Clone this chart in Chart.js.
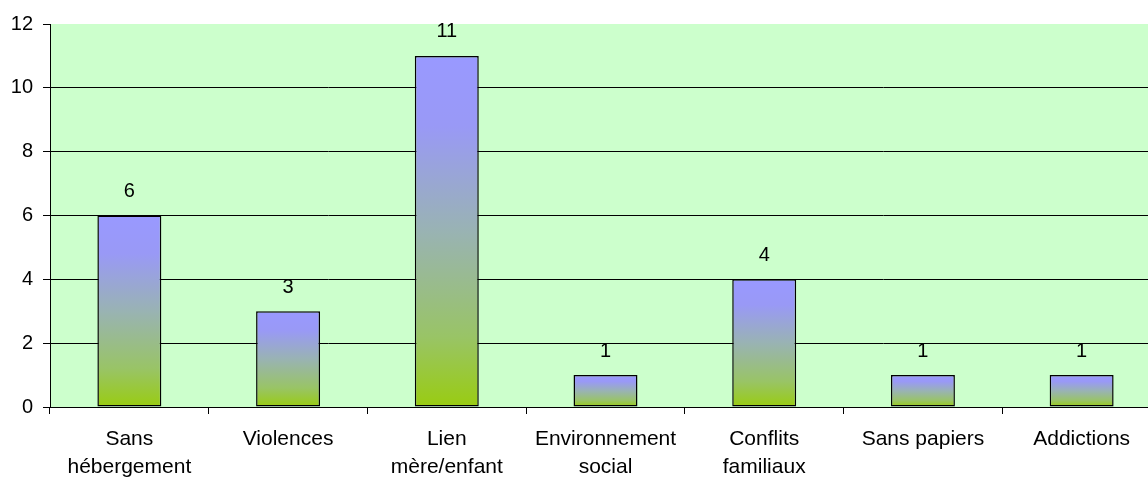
<!DOCTYPE html>
<html>
<head>
<meta charset="utf-8">
<script src="https://cdn.jsdelivr.net/npm/chart.js@4/dist/chart.umd.min.js"></script>
<style>
  html, body { margin: 0; padding: 0; background: #fff; }
  /* the plot runs a little past the right edge of the frame */
  #wrap { width: 1148px; height: 480px; overflow: hidden; }
</style>
</head>
<body>
<div id="wrap"><canvas id="chart" width="1161" height="480"></canvas></div>
<script>
const categories = [
  ['Sans', 'hébergement'],
  'Violences',
  ['Lien', 'mère/enfant'],
  ['Environnement', 'social'],
  ['Conflits', 'familiaux'],
  'Sans papiers',
  'Addictions'
];
const counts = [6, 3, 11, 1, 4, 1, 1];
const yMax = 12;
const yStep = 2;

const fontFamily = '"Liberation Sans", Arial, sans-serif';

// light green plot background
const plotBackground = {
  id: 'plotBackground',
  beforeDraw(chart) {
    const { ctx, chartArea: a } = chart;
    ctx.save();
    ctx.fillStyle = '#ccffcc';
    ctx.fillRect(a.left, a.top, a.right - a.left, a.bottom - a.top);
    ctx.restore();
  }
};

// value printed above each bar
const valueLabels = {
  id: 'valueLabels',
  afterDatasetsDraw(chart) {
    const { ctx } = chart;
    const meta = chart.getDatasetMeta(0);
    ctx.save();
    ctx.font = '20px ' + fontFamily;
    ctx.fillStyle = '#000';
    ctx.textAlign = 'center';
    ctx.textBaseline = 'middle';
    meta.data.forEach((bar, i) => {
      ctx.fillText(String(counts[i]), bar.x, bar.y - 24);
    });
    ctx.restore();
  }
};

// blue at the top of each bar fading to green at its base
function barGradient(context) {
  const chart = context.chart;
  const y = chart.scales.y;
  if (!chart.chartArea || !y || context.dataIndex === undefined) return '#99b3b3';
  const top = y.getPixelForValue(counts[context.dataIndex]);
  const bottom = y.getPixelForValue(0);
  if (!isFinite(top) || !isFinite(bottom) || top === bottom) return '#99b3b3';
  const g = chart.ctx.createLinearGradient(0, top, 0, bottom);
  g.addColorStop(0, '#9999ff');
  g.addColorStop(0.2, '#9999f6');
  g.addColorStop(0.5, '#99b3b3');
  g.addColorStop(0.8, '#99c466');
  g.addColorStop(1, '#99cc11');
  return g;
}

new Chart(document.getElementById('chart').getContext('2d'), {
  type: 'bar',
  data: {
    labels: categories,
    datasets: [{
      data: counts,
      backgroundColor: barGradient,
      borderColor: '#000',
      borderWidth: 1.5,
      borderSkipped: false,
      categoryPercentage: 0.403,
      barPercentage: 1
    }]
  },
  options: {
    responsive: false,
    animation: false,
    layout: { padding: { top: 24, right: 0, bottom: 0, left: 0 } },
    plugins: { legend: { display: false }, tooltip: { enabled: false } },
    scales: {
      x: {
        offset: true,
        grid: {
          offset: true,
          drawOnChartArea: false,
          drawTicks: true,
          tickLength: 7,
          tickColor: '#000'
        },
        border: { display: true, color: '#000', width: 1 },
        ticks: {
          color: '#000',
          font: { family: fontFamily, size: 21, lineHeight: 1.3 },
          padding: 12,
          maxRotation: 0,
          autoSkip: false
        },
        afterFit(scale) { scale.height = 73; }
      },
      y: {
        min: 0,
        max: yMax,
        ticks: {
          stepSize: yStep,
          color: '#000',
          font: { family: fontFamily, size: 20 },
          padding: 10
        },
        grid: {
          color: (c) => (c.tick && c.tick.value === yMax ? 'rgba(0,0,0,0)' : '#000'),
          tickColor: '#000',
          tickLength: 7,
          lineWidth: 1
        },
        border: { display: true, color: '#000', width: 1 },
        afterFit(scale) { scale.width = 50; }
      }
    }
  },
  plugins: [plotBackground, valueLabels]
});
</script>
</body>
</html>
